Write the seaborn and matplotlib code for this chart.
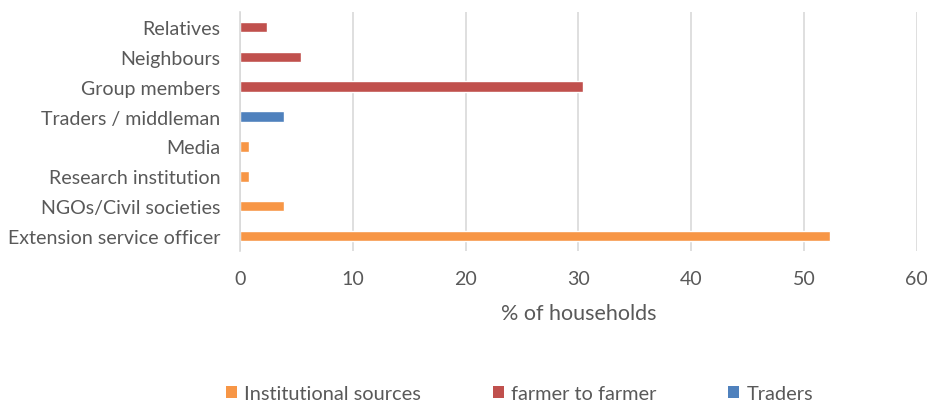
import matplotlib
matplotlib.use("Agg")
import matplotlib.pyplot as plt
import seaborn as sns
import pandas as pd
from matplotlib.patches import Patch

categories = ["Relatives", "Neighbours", "Group members", "Traders / middleman",
              "Media", "Research institution", "NGOs/Civil societies",
              "Extension service officer"]
values = [2.4, 5.4, 30.4, 3.9, 0.8, 0.8, 3.9, 52.3]
groups = ["farmer to farmer", "farmer to farmer", "farmer to farmer", "Traders",
          "Institutional sources", "Institutional sources", "Institutional sources",
          "Institutional sources"]
legend_order = ["Institutional sources", "farmer to farmer", "Traders"]
colors = {"Institutional sources": "#F79646", "farmer to farmer": "#C0504D", "Traders": "#4F81BD"}
x_ticks = [0, 10, 20, 30, 40, 50, 60]
x_label = "% of households"

df = pd.DataFrame({"category": categories, "value": values, "group": groups})

sns.set_style("white")
plt.rcParams["font.family"] = ["Lato", "DejaVu Sans"]
txt = "#595959"

fig = plt.figure(figsize=(9.28, 4.02), dpi=100)
ax = fig.add_axes([240/928, 1-252/402, (916.7-240)/928, (252-13)/402])

sns.barplot(data=df, y="category", x="value", hue="group", order=categories,
            hue_order=legend_order, palette=colors, dodge=False, width=0.35,
            orient="h", ax=ax, legend=False, saturation=1)

ax.set_xlim(0, 60)
ax.set_xticks(x_ticks)
ax.set_xticklabels([str(t) for t in x_ticks])
ax.grid(axis="x", color="#D9D9D9", linewidth=1.2)
ax.set_axisbelow(True)
for s in ["top", "right", "bottom"]:
    ax.spines[s].set_visible(False)
ax.spines["left"].set_color("#D9D9D9")
ax.spines["left"].set_linewidth(1.2)
ax.tick_params(axis="y", length=0, labelsize=14.1, colors=txt, pad=14)
ax.tick_params(axis="x", length=0, labelsize=14.1, colors=txt, pad=14)
ax.set_ylabel("")
ax.set_xlabel(x_label, fontsize=15.5, color=txt, labelpad=11.5)

handles = [Patch(facecolor=colors[g], edgecolor="none") for g in legend_order]
fig.legend(handles, legend_order, loc="center", bbox_to_anchor=(0.56, 1-395/402),
           ncol=3, frameon=False, fontsize=14.4, labelcolor=txt, handlelength=0.55,
           handleheight=0.55, handletextpad=0.35, columnspacing=3.6,
           borderpad=0, borderaxespad=0)

fig.savefig("out.png", dpi=100)
